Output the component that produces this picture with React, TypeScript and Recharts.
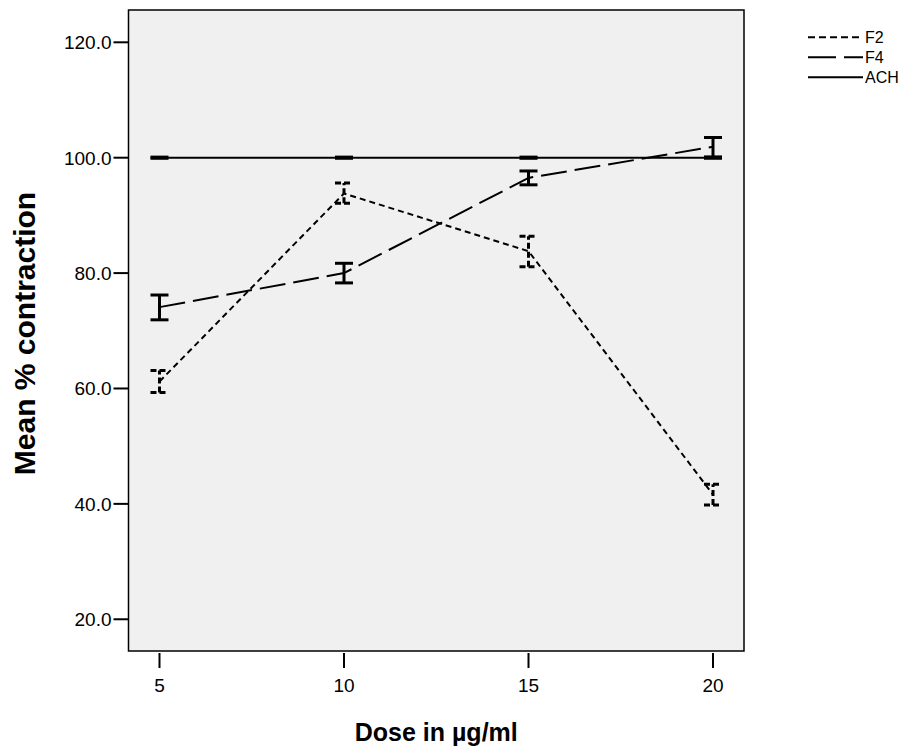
import React from 'react';
import { ComposedChart, Line, XAxis, YAxis, ErrorBar, ReferenceArea } from 'recharts';

const doses = [5, 10, 15, 20];
const xTicks = [5, 10, 15, 20];
const yTicks = [20, 40, 60, 80, 100, 120];

const f2Mean = [61.2, 93.8, 83.8, 41.6];
const f2Low = [59.3, 92.1, 81.1, 39.8];
const f2High = [63.1, 95.6, 86.4, 43.4];

const f4Mean = [74.1, 80.0, 96.5, 101.9];
const f4Low = [71.9, 78.3, 95.3, 100.1];
const f4High = [76.2, 81.7, 97.7, 103.5];

const achMean = [100, 100, 100, 100];
const achLow = [99.9, 99.9, 99.9, 99.9];
const achHigh = [100.1, 100.1, 100.1, 100.1];

const X_DOMAIN: [number, number] = [4.16, 20.84];
const Y_DOMAIN: [number, number] = [14.5, 125.6];

const data = doses.map((d, i) => ({
  dose: d,
  F2: f2Mean[i],
  F2err: [f2Mean[i] - f2Low[i], f2High[i] - f2Mean[i]],
  F4: f4Mean[i],
  F4err: [f4Mean[i] - f4Low[i], f4High[i] - f4Mean[i]],
  ACH: achMean[i],
  ACHerr: [achMean[i] - achLow[i], achHigh[i] - achMean[i]],
}));

const FONT = '"Liberation Sans", Arial, sans-serif';

const XTick = (props: any) => {
  const { x, y, payload } = props;
  return (
    <g>
      <line x1={x} x2={x} y1={y + 2} y2={y + 17} stroke="#000" strokeWidth={2} />
      <text x={x} y={y + 41} textAnchor="middle" fontSize={19} fontFamily={FONT} fill="#000">
        {payload.value}
      </text>
    </g>
  );
};

const YTick = (props: any) => {
  const { x, y, payload } = props;
  return (
    <text x={x} y={y} dy={7} textAnchor="end" fontSize={19} fontFamily={FONT} fill="#000">
      {Number(payload.value).toFixed(1)}
    </text>
  );
};

const XTitle = (props: any) => {
  const vb = props.viewBox || {};
  const cx = (vb.x || 0) + (vb.width || 0) / 2;
  return (
    <text x={cx} y={733} textAnchor="middle" fontSize={25} fontWeight="bold" fontFamily={FONT} fill="#000">
      Dose in µg/ml
    </text>
  );
};

const YTitle = (props: any) => {
  const vb = props.viewBox || {};
  const cy = (vb.y || 0) + (vb.height || 0) / 2 + 3;
  return (
    <text
      x={16}
      y={cy}
      transform={`rotate(-90, 16, ${cy})`}
      textAnchor="middle"
      dominantBaseline="central"
      fontSize={30}
      fontWeight="bold"
      fontFamily={FONT}
      fill="#000"
    >
      Mean % contraction
    </text>
  );
};

const legendItems = [
  { name: 'F2', dash: '7 4' },
  { name: 'F4', dash: '28 8' },
  { name: 'ACH', dash: undefined },
];

export default function App() {
  return (
    <div style={{ position: 'relative', width: 900, height: 740, fontFamily: FONT }}>
      <ComposedChart
        width={900}
        height={740}
        data={data}
        margin={{ top: 2, right: 164, bottom: 0, left: 0 }}
      >
        <ReferenceArea
          x1={X_DOMAIN[0]}
          x2={X_DOMAIN[1]}
          y1={Y_DOMAIN[0]}
          y2={Y_DOMAIN[1]}
          fill="#f0f0f0"
          fillOpacity={1}
          stroke="#000"
          strokeWidth={1.5}
          ifOverflow="visible"
        />
        <XAxis
          dataKey="dose"
          type="number"
          domain={X_DOMAIN}
          ticks={xTicks}
          allowDataOverflow
          axisLine={false}
          tickLine={false}
          tickSize={0}
          tickMargin={0}
          height={97}
          tick={<XTick />}
          label={<XTitle />}
        />
        <YAxis
          type="number"
          domain={Y_DOMAIN}
          ticks={yTicks}
          allowDataOverflow
          width={120.5}
          axisLine={false}
          tickLine={{ stroke: '#000', strokeWidth: 2 }}
          tickSize={15}
          tickMargin={2}
          tick={<YTick />}
          label={<YTitle />}
        />
        <Line
          dataKey="ACH"
          stroke="#000"
          strokeWidth={2}
          dot={false}
          activeDot={false}
          isAnimationActive={false}
        >
          <ErrorBar dataKey="ACHerr" direction="y" width={9} stroke="#000" strokeWidth={3} isAnimationActive={false} />
        </Line>
        <Line
          dataKey="F4"
          stroke="#000"
          strokeWidth={2}
          strokeDasharray="26 8"
          dot={false}
          activeDot={false}
          isAnimationActive={false}
        >
          <ErrorBar dataKey="F4err" direction="y" width={9} stroke="#000" strokeWidth={3} isAnimationActive={false} />
        </Line>
        <Line
          dataKey="F2"
          stroke="#000"
          strokeWidth={2}
          strokeDasharray="6 4"
          dot={false}
          activeDot={false}
          isAnimationActive={false}
        >
          <ErrorBar
            dataKey="F2err"
            direction="y"
            width={9}
            stroke="#000"
            strokeWidth={3}
            strokeDasharray="6 3"
            isAnimationActive={false}
          />
        </Line>
      </ComposedChart>
      <svg width={110} height={80} style={{ position: 'absolute', left: 792, top: 10 }}>
        {legendItems.map((item, i) => (
          <g key={item.name}>
            <line
              x1={8}
              x2={63}
              y1={19.3 + i * 20}
              y2={19.3 + i * 20}
              stroke="#000"
              strokeWidth={2}
              strokeDasharray={item.dash}
            />
            <text x={65} y={19.3 + i * 20 + 6} fontSize={16} fontFamily={FONT} fill="#000">
              {item.name}
            </text>
          </g>
        ))}
      </svg>
    </div>
  );
}
